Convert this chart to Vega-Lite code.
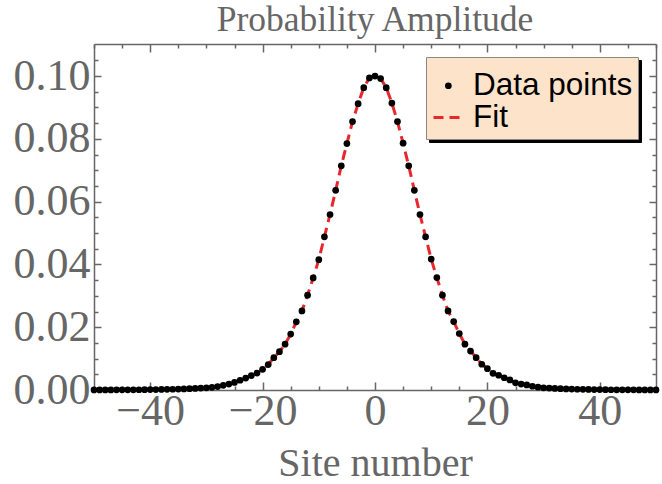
{
  "$schema": "https://vega.github.io/schema/vega-lite/v6.json",
  "width": 562,
  "height": 346,
  "autosize": {"type": "none"},
  "padding": {"left": 94, "top": 44, "right": 6, "bottom": 94},
  "background": "white",
  "title": {
    "text": "Probability Amplitude",
    "font": "Liberation Serif",
    "fontSize": 35.5,
    "fontWeight": "normal",
    "color": "#666666",
    "anchor": "middle",
    "frame": "group",
    "baseline": "alphabetic",
    "offset": 10.5,
    "dy": 39
  },
  "config": {"view": {"stroke": null}},
  "data": {
    "values": [
      {"site": -50, "p": 0.00002, "series": "Data points"},
      {"site": -49, "p": 0.00002, "series": "Data points"},
      {"site": -48, "p": 0.00003, "series": "Data points"},
      {"site": -47, "p": 0.00003, "series": "Data points"},
      {"site": -46, "p": 0.00004, "series": "Data points"},
      {"site": -45, "p": 0.00005, "series": "Data points"},
      {"site": -44, "p": 0.00006, "series": "Data points"},
      {"site": -43, "p": 0.00007, "series": "Data points"},
      {"site": -42, "p": 0.00008, "series": "Data points"},
      {"site": -41, "p": 0.0001, "series": "Data points"},
      {"site": -40, "p": 0.00012, "series": "Data points"},
      {"site": -39, "p": 0.00014, "series": "Data points"},
      {"site": -38, "p": 0.00017, "series": "Data points"},
      {"site": -37, "p": 0.0002, "series": "Data points"},
      {"site": -36, "p": 0.00024, "series": "Data points"},
      {"site": -35, "p": 0.0003, "series": "Data points"},
      {"site": -34, "p": 0.00035, "series": "Data points"},
      {"site": -33, "p": 0.00042, "series": "Data points"},
      {"site": -32, "p": 0.0005, "series": "Data points"},
      {"site": -31, "p": 0.0006, "series": "Data points"},
      {"site": -30, "p": 0.0007, "series": "Data points"},
      {"site": -29, "p": 0.00085, "series": "Data points"},
      {"site": -28, "p": 0.0011, "series": "Data points"},
      {"site": -27, "p": 0.0015, "series": "Data points"},
      {"site": -26, "p": 0.0019, "series": "Data points"},
      {"site": -25, "p": 0.0024, "series": "Data points"},
      {"site": -24, "p": 0.0031, "series": "Data points"},
      {"site": -23, "p": 0.0038, "series": "Data points"},
      {"site": -22, "p": 0.0046, "series": "Data points"},
      {"site": -21, "p": 0.0054, "series": "Data points"},
      {"site": -20, "p": 0.0066, "series": "Data points"},
      {"site": -19, "p": 0.0081, "series": "Data points"},
      {"site": -18, "p": 0.0103, "series": "Data points"},
      {"site": -17, "p": 0.0122, "series": "Data points"},
      {"site": -16, "p": 0.0146, "series": "Data points"},
      {"site": -15, "p": 0.0178, "series": "Data points"},
      {"site": -14, "p": 0.0217, "series": "Data points"},
      {"site": -13, "p": 0.0252, "series": "Data points"},
      {"site": -12, "p": 0.0302, "series": "Data points"},
      {"site": -11, "p": 0.0357, "series": "Data points"},
      {"site": -10, "p": 0.0415, "series": "Data points"},
      {"site": -9, "p": 0.0488, "series": "Data points"},
      {"site": -8, "p": 0.0559, "series": "Data points"},
      {"site": -7, "p": 0.0636, "series": "Data points"},
      {"site": -6, "p": 0.0714, "series": "Data points"},
      {"site": -5, "p": 0.0785, "series": "Data points"},
      {"site": -4, "p": 0.0855, "series": "Data points"},
      {"site": -3, "p": 0.0912, "series": "Data points"},
      {"site": -2, "p": 0.0963, "series": "Data points"},
      {"site": -1, "p": 0.0994, "series": "Data points"},
      {"site": 0, "p": 0.1, "series": "Data points"},
      {"site": 1, "p": 0.0992, "series": "Data points"},
      {"site": 2, "p": 0.0963, "series": "Data points"},
      {"site": 3, "p": 0.0914, "series": "Data points"},
      {"site": 4, "p": 0.0855, "series": "Data points"},
      {"site": 5, "p": 0.0786, "series": "Data points"},
      {"site": 6, "p": 0.0714, "series": "Data points"},
      {"site": 7, "p": 0.0636, "series": "Data points"},
      {"site": 8, "p": 0.0559, "series": "Data points"},
      {"site": 9, "p": 0.0488, "series": "Data points"},
      {"site": 10, "p": 0.0417, "series": "Data points"},
      {"site": 11, "p": 0.0358, "series": "Data points"},
      {"site": 12, "p": 0.0302, "series": "Data points"},
      {"site": 13, "p": 0.0252, "series": "Data points"},
      {"site": 14, "p": 0.0218, "series": "Data points"},
      {"site": 15, "p": 0.018, "series": "Data points"},
      {"site": 16, "p": 0.0146, "series": "Data points"},
      {"site": 17, "p": 0.0124, "series": "Data points"},
      {"site": 18, "p": 0.0103, "series": "Data points"},
      {"site": 19, "p": 0.0082, "series": "Data points"},
      {"site": 20, "p": 0.0068, "series": "Data points"},
      {"site": 21, "p": 0.0053, "series": "Data points"},
      {"site": 22, "p": 0.0047, "series": "Data points"},
      {"site": 23, "p": 0.0039, "series": "Data points"},
      {"site": 24, "p": 0.0032, "series": "Data points"},
      {"site": 25, "p": 0.0023, "series": "Data points"},
      {"site": 26, "p": 0.0019, "series": "Data points"},
      {"site": 27, "p": 0.0016, "series": "Data points"},
      {"site": 28, "p": 0.0012, "series": "Data points"},
      {"site": 29, "p": 0.0009, "series": "Data points"},
      {"site": 30, "p": 0.0007, "series": "Data points"},
      {"site": 31, "p": 0.0006, "series": "Data points"},
      {"site": 32, "p": 0.0005, "series": "Data points"},
      {"site": 33, "p": 0.00042, "series": "Data points"},
      {"site": 34, "p": 0.00035, "series": "Data points"},
      {"site": 35, "p": 0.0003, "series": "Data points"},
      {"site": 36, "p": 0.00024, "series": "Data points"},
      {"site": 37, "p": 0.0002, "series": "Data points"},
      {"site": 38, "p": 0.00017, "series": "Data points"},
      {"site": 39, "p": 0.00014, "series": "Data points"},
      {"site": 40, "p": 0.00012, "series": "Data points"},
      {"site": 41, "p": 0.0001, "series": "Data points"},
      {"site": 42, "p": 0.00008, "series": "Data points"},
      {"site": 43, "p": 0.00007, "series": "Data points"},
      {"site": 44, "p": 0.00006, "series": "Data points"},
      {"site": 45, "p": 0.00005, "series": "Data points"},
      {"site": 46, "p": 0.00004, "series": "Data points"},
      {"site": 47, "p": 0.00003, "series": "Data points"},
      {"site": 48, "p": 0.00003, "series": "Data points"},
      {"site": 49, "p": 0.00002, "series": "Data points"},
      {"site": 50, "p": 0.00002, "series": "Data points"}
    ]
  },
  "layer": [
    {
      "mark": {"type": "line", "color": "#e8272d", "strokeWidth": 3},
      "encoding": {
        "x": {
          "field": "site", "type": "quantitative",
          "scale": {"domain": [-50, 50], "nice": false, "zero": false},
          "axis": {
            "orient": "bottom",
            "values": [-50, -45, -40, -35, -30, -25, -20, -15, -10, -5, 0, 5, 10, 15, 20, 25, 30, 35, 40, 45, 50],
            "tickSize": {"condition": {"test": "datum.value % 20 === 0", "value": -8}, "value": -4},
            "labelExpr": "datum.value % 20 === 0 ? datum.label : ''",
            "labelFont": "Liberation Serif", "labelFontSize": 44, "labelColor": "#666666",
            "labelPadding": 7, "labelOverlap": false, "labelFlush": false, "labelBound": false,
            "domainColor": "#666666", "domainWidth": 1.5, "tickColor": "#666666", "tickWidth": 1.5,
            "grid": false,
            "title": "Site number", "titleFont": "Liberation Serif", "titleFontSize": 40,
            "titleFontWeight": "normal", "titleColor": "#666666", "titlePadding": 6
          }
        },
        "y": {
          "field": "p", "type": "quantitative",
          "scale": {"domain": [0, 0.1102], "nice": false, "zero": false},
          "axis": {
            "orient": "left",
            "values": [0, 0.005, 0.01, 0.015, 0.02, 0.025, 0.03, 0.035, 0.04, 0.045, 0.05, 0.055, 0.06, 0.065, 0.07, 0.075, 0.08, 0.085, 0.09, 0.095, 0.1, 0.105],
            "tickSize": {"condition": {"test": "abs(datum.value*50 - round(datum.value*50)) < 0.001", "value": -7}, "value": -4},
            "labelExpr": "abs(datum.value*50 - round(datum.value*50)) < 0.001 ? format(datum.value, '.2f') : ''",
            "labelFont": "Liberation Serif", "labelFontSize": 44, "labelColor": "#666666",
            "labelPadding": 11, "labelOverlap": false, "labelFlush": false, "labelBound": false,
            "domainColor": "#666666", "domainWidth": 1.5, "tickColor": "#666666", "tickWidth": 1.5,
            "grid": false, "title": null
          }
        },
        "strokeDash": {
          "datum": "Fit",
          "scale": {"domain": ["Fit"], "range": [[10, 6]]},
          "legend": {
            "orient": "none", "legendX": 333, "legendY": 44, "zindex": 2,
            "title": " ", "titleFontSize": 8, "titlePadding": 0,
            "fillColor": null, "strokeColor": null, "padding": 5,
            "labelFont": "Liberation Sans", "labelFontSize": 31.5, "labelOpacity": 0,
            "labelOffset": 10, "symbolType": "stroke", "symbolSize": 900,
            "symbolStrokeColor": "#e8272d", "symbolStrokeWidth": 3, "symbolOpacity": 1
          }
        }
      }
    },
    {
      "mark": {"type": "point", "opacity": 0},
      "encoding": {
        "x": {"field": "site", "type": "quantitative", "axis": null},
        "y": {"field": "p", "type": "quantitative", "axis": null},
        "shape": {
          "field": "series", "type": "nominal",
          "scale": {"domain": ["Fit", "Data points"], "range": ["circle", "circle"]},
          "legend": {
            "orient": "none", "legendX": 335, "legendY": 16, "zindex": 0,
            "title": " ", "titleFontSize": 8, "titlePadding": 0,
            "fillColor": "#000000", "strokeColor": "#000000", "padding": 5,
            "labelFont": "Liberation Sans", "labelFontSize": 31.5, "labelColor": "#000000",
            "labelOpacity": 0, "symbolOpacity": 0,
            "labelOffset": 10, "symbolSize": 900, "rowPadding": 0
          }
        }
      }
    },
    {
      "mark": {"type": "circle", "opacity": 0},
      "encoding": {
        "x": {"field": "site", "type": "quantitative", "axis": null},
        "y": {"field": "p", "type": "quantitative", "axis": null},
        "fill": {
          "datum": "Data points",
          "scale": {"domain": ["Data points"], "range": ["#000000"]},
          "legend": {
            "orient": "none", "legendX": 333.6, "legendY": 13, "zindex": 2,
            "title": " ", "titleFontSize": 8, "titlePadding": 0,
            "fillColor": null, "strokeColor": null, "padding": 5,
            "labelFont": "Liberation Sans", "labelFontSize": 31.5, "labelOpacity": 0,
            "labelOffset": 10, "symbolType": "circle", "symbolSize": 45,
            "symbolFillColor": "#000000", "symbolStrokeWidth": 0, "symbolOpacity": 1
          }
        }
      }
    },
    {
      "mark": {"type": "circle", "size": 45, "opacity": 1},
      "encoding": {
        "x": {
          "field": "site", "type": "quantitative",
          "scale": {"domain": [-50, 50], "nice": false, "zero": false},
          "axis": {
            "orient": "top",
            "values": [-50, -45, -40, -35, -30, -25, -20, -15, -10, -5, 0, 5, 10, 15, 20, 25, 30, 35, 40, 45, 50],
            "tickSize": {"condition": {"test": "datum.value % 20 === 0", "value": -8}, "value": -4},
            "labels": false,
            "domainColor": "#666666", "domainWidth": 1.5, "tickColor": "#666666", "tickWidth": 1.5,
            "grid": false, "title": null
          }
        },
        "y": {
          "field": "p", "type": "quantitative",
          "scale": {"domain": [0, 0.1102], "nice": false, "zero": false},
          "axis": {
            "orient": "right",
            "values": [0, 0.005, 0.01, 0.015, 0.02, 0.025, 0.03, 0.035, 0.04, 0.045, 0.05, 0.055, 0.06, 0.065, 0.07, 0.075, 0.08, 0.085, 0.09, 0.095, 0.1, 0.105],
            "tickSize": {"condition": {"test": "abs(datum.value*50 - round(datum.value*50)) < 0.001", "value": -7}, "value": -4},
            "labels": false,
            "domainColor": "#666666", "domainWidth": 1.5, "tickColor": "#666666", "tickWidth": 1.5,
            "grid": false, "title": null
          }
        },
        "color": {
          "field": "series", "type": "nominal",
          "scale": {"domain": ["Data points", "Fit"], "range": ["#000000", "#e8272d"]},
          "legend": {
            "orient": "none", "legendX": 332, "legendY": 13, "zindex": 1,
            "title": " ", "titleFontSize": 8, "titlePadding": 0,
            "fillColor": "#fde3c9", "strokeColor": "#888888", "padding": 5,
            "labelFont": "Liberation Sans", "labelFontSize": 31.5, "labelColor": "#000000",
            "labelOffset": 10, "symbolSize": 900, "rowPadding": 0, "symbolOpacity": 0
          }
        }
      }
    }
  ],
  "resolve": {"axis": {"x": "independent", "y": "independent"}}
}
